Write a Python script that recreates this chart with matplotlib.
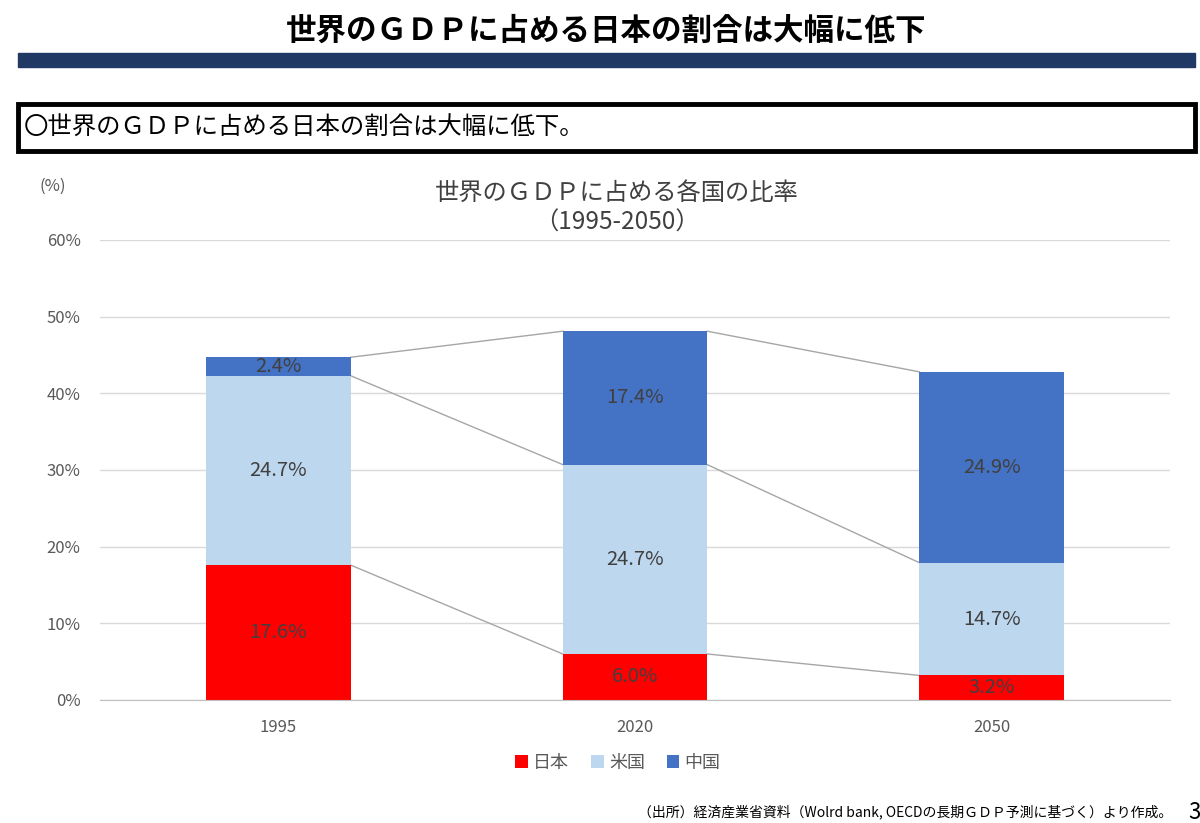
import numpy as np
import matplotlib.pyplot as plt
from matplotlib.patches import Rectangle

plt.rcParams['font.family'] = ['Noto Sans CJK JP', 'DejaVu Sans']

# data
years = ['1995', '2020', '2050']
series_names = ['日本', '米国', '中国']
japan = [17.6, 6.0, 3.2]
usa = [24.7, 24.7, 14.7]
china = [2.4, 17.4, 24.9]
colors = ['#FF0000', '#BDD7EE', '#4472C4']

fig = plt.figure(figsize=(12, 8.23), dpi=100)

# header
fig.text(0.505, 0.963, '世界のＧＤＰに占める日本の割合は大幅に低下', ha='center', va='center',
         fontsize=22, fontweight='bold')
fig.patches.append(Rectangle((0.015, 0.918), 0.981, 0.017, transform=fig.transFigure,
                             color='#203864'))
fig.patches.append(Rectangle((0.015, 0.817), 0.981, 0.057, transform=fig.transFigure,
                             facecolor='white', edgecolor='black', linewidth=3.5))
fig.text(0.02, 0.845, '〇世界のＧＤＰに占める日本の割合は大幅に低下。', ha='left', va='center',
         fontsize=17.6)

ax = fig.add_axes([0.0833, 0.1495, 0.8917, 0.5589])
x = np.arange(len(years))
width = 0.405
series = [japan, usa, china]
bottom = np.zeros(len(years))
tops = []
for name, vals, c in zip(series_names, series, colors):
    vals = np.array(vals)
    ax.bar(x, vals, width, bottom=bottom, color=c, label=name, zorder=2)
    for xi, b, v in zip(x, bottom, vals):
        ax.text(xi, b + v / 2, f'{v:.1f}%', ha='center', va='center', fontsize=14.5,
                color='#404040', zorder=3)
    bottom = bottom + vals
    tops.append(bottom.copy())

# series lines between bars
for t in tops:
    for i in range(len(years) - 1):
        ax.plot([x[i] + width / 2, x[i + 1] - width / 2], [t[i], t[i + 1]],
                color='#A6A6A6', linewidth=1, zorder=1)

ax.set_xlim(-0.5, 2.5)
ax.set_ylim(0, 60)
ax.set_yticks(np.arange(0, 61, 10))
ax.set_yticklabels([f'{v}%' for v in range(0, 61, 10)])
ax.set_xticks(x)
ax.set_xticklabels(years)
ax.tick_params(colors='#595959', labelsize=12, length=0)
ax.tick_params(axis='y', pad=14)
ax.tick_params(axis='x', pad=14)
ax.grid(axis='y', color='#D9D9D9', linewidth=1, zorder=0)
ax.set_axisbelow(True)
for s in ['top', 'right', 'left']:
    ax.spines[s].set_visible(False)
ax.spines['bottom'].set_color('#BFBFBF')

fig.text(0.033, 0.774, '(%)', fontsize=12, color='#595959', va='center')
fig.text(0.514, 0.748, '世界のＧＤＰに占める各国の比率\n（1995-2050）', ha='center', va='center',
         fontsize=17.5, color='#404040', linespacing=1.2)

fig.legend(loc='center', bbox_to_anchor=(0.515, 0.073), ncol=3, frameon=False,
           fontsize=13, handlelength=0.7, handleheight=0.7, handletextpad=0.3,
           columnspacing=1.2, labelcolor='#595959')

fig.text(0.977, 0.013, '（出所）経済産業省資料（Wolrd bank, OECDの長期ＧＤＰ予測に基づく）より作成。',
         ha='right', va='center', fontsize=10)
fig.text(0.99, 0.013, '3', ha='left', va='center', fontsize=16)

fig.savefig('out.png', dpi=100)
